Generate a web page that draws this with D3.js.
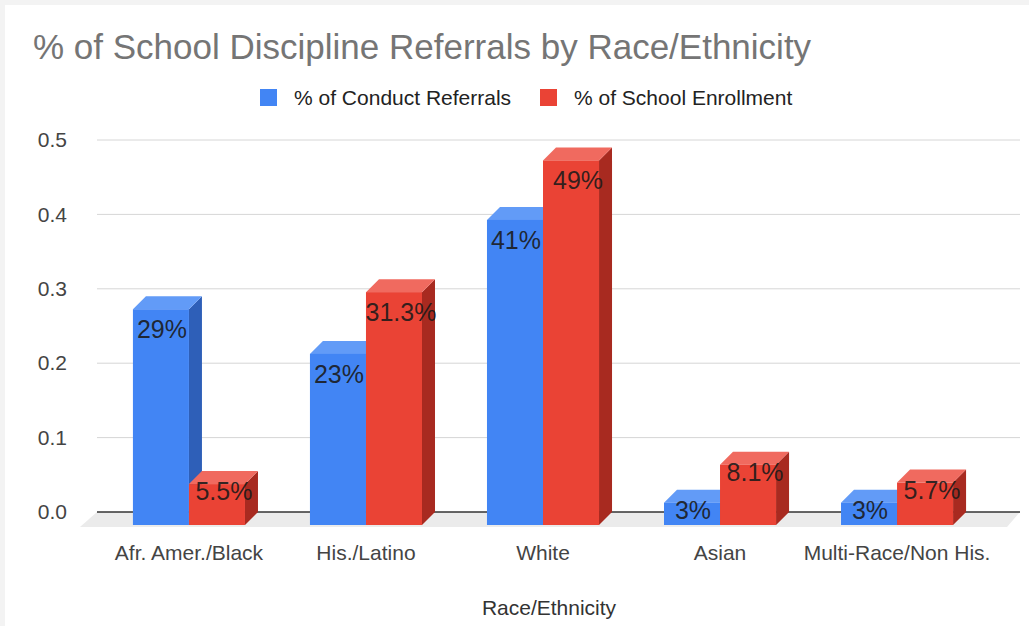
<!DOCTYPE html>
<html>
<head>
<meta charset="utf-8">
<script src="https://cdn.jsdelivr.net/npm/d3@7"></script>
<style>
  html, body { margin: 0; padding: 0; background: #ffffff; }
  svg { display: block; font-family: Arial, "Liberation Sans", sans-serif; }
</style>
</head>
<body>
<svg id="chart" width="1029" height="626"></svg>
<script>
// ---- data ----
const title = "% of School Discipline Referrals by Race/Ethnicity";
const categories = ["Afr. Amer./Black", "His./Latino", "White", "Asian", "Multi-Race/Non His."];
const seriesNames = ["% of Conduct Referrals", "% of School Enrollment"];
const conductReferrals = [0.29, 0.23, 0.41, 0.03, 0.03];
const schoolEnrollment = [0.055, 0.313, 0.49, 0.081, 0.057];
const yTicks = [0, 0.1, 0.2, 0.3, 0.4, 0.5];
const xAxisTitle = "Race/Ethnicity";

// ---- styles ----
const W = 1029, H = 626;
const depth = 13;
const palette = [
  { front: "#4285f4", top: "#629bf7", side: "#2e5fb8", labelShift: 1 },
  { front: "#ea4335", top: "#f06a5f", side: "#a82a20", labelShift: 7 }
];

const svg = d3.select("#chart");

// faint frame like the screenshot
svg.append("rect").attr("width", W).attr("height", H).attr("fill", "#f3f3f3");
svg.append("rect").attr("x", 5).attr("y", 5).attr("width", W - 5).attr("height", H - 5).attr("fill", "#ffffff");

// scales (back plane = grid plane, front faces shifted by depth)
const y = d3.scaleLinear().domain([0, 0.5]).range([512, 140]);
const yFront = v => y(v) + depth;
const x0 = d3.scaleBand().domain(categories).range([100, 986]).paddingInner(0.367).paddingOuter(0.186);
const x1 = d3.scaleBand().domain([0, 1]).range([0, x0.bandwidth()]);

const gridLeft = 97, gridRight = 1020;

// floor
svg.append("polygon")
  .attr("points", [
    [gridLeft, y(0)], [gridRight, y(0)],
    [gridRight - depth, yFront(0) + 2], [gridLeft - depth - 4, yFront(0) + 2]
  ].map(p => p.join(",")).join(" "))
  .attr("fill", "#ebebeb");

// gridlines
svg.append("g").selectAll("line").data(yTicks).join("line")
  .attr("x1", gridLeft).attr("x2", gridRight)
  .attr("y1", d => y(d)).attr("y2", d => y(d))
  .attr("stroke", d => d === 0 ? "#333333" : "#d6d6d6")
  .attr("stroke-width", d => d === 0 ? 1.5 : 1);

// y axis labels
const yAxis = d3.axisLeft(y).tickValues(yTicks).tickFormat(d3.format(".1f")).tickSize(0).tickPadding(0);
const gy = svg.append("g").attr("transform", "translate(67,0)").call(yAxis);
gy.select(".domain").remove();
gy.selectAll("text").attr("font-size", 21).attr("fill", "#444444").attr("font-family", "Arial, 'Liberation Sans', sans-serif");

// bars
const pct = d3.format(".1~%");
const series = [conductReferrals, schoolEnrollment];
const bars = [];
categories.forEach((c, i) => {
  series.forEach((vals, s) => bars.push({ c, s, v: vals[i] }));
});

const gBars = svg.append("g");
bars.forEach(b => {
  const col = palette[b.s];
  const bx = x0(b.c) + x1(b.s);
  const bw = x1.bandwidth();
  const yt = yFront(b.v), yb = yFront(0);
  const g = gBars.append("g");
  // side face
  g.append("polygon")
    .attr("points", [[bx + bw, yt], [bx + bw + depth, yt - depth], [bx + bw + depth, yb - depth], [bx + bw, yb]].map(p => p.join(",")).join(" "))
    .attr("fill", col.side);
  // top face
  g.append("polygon")
    .attr("points", [[bx, yt], [bx + depth, yt - depth], [bx + bw + depth, yt - depth], [bx + bw, yt]].map(p => p.join(",")).join(" "))
    .attr("fill", col.top);
  // front face
  g.append("rect").attr("x", bx).attr("y", yt).attr("width", bw).attr("height", yb - yt).attr("fill", col.front);
});

// value labels
bars.forEach(b => {
  const col = palette[b.s];
  const bx = x0(b.c) + x1(b.s);
  const bw = x1.bandwidth();
  const yt = yFront(b.v);
  const h = yFront(0) - yt;
  gBars.append("text")
    .attr("x", bx + bw / 2 + col.labelShift)
    .attr("y", yt + (h > 100 ? 29 : 16))
    .attr("text-anchor", "middle")
    .attr("font-size", 25)
    .attr("fill", "#1a1a1a")
    .attr("fill-opacity", 0.9)
    .text(pct(b.v));
});

// x axis labels
const xAxis = d3.axisBottom(x0).tickSize(0).tickPadding(0);
const gx = svg.append("g").attr("transform", "translate(0,545)").call(xAxis);
gx.select(".domain").remove();
gx.selectAll("text").attr("font-size", 21).attr("fill", "#444444").attr("font-family", "Arial, 'Liberation Sans', sans-serif");

// x axis title
svg.append("text")
  .attr("x", 549).attr("y", 615)
  .attr("text-anchor", "middle")
  .attr("font-size", 21).attr("fill", "#333333")
  .text(xAxisTitle);

// title
svg.append("text")
  .attr("x", 33).attr("y", 59)
  .attr("font-size", 35).attr("fill", "#757575")
  .text(title);

// legend
const legendX = [260, 540];
const legend = svg.append("g");
seriesNames.forEach((name, i) => {
  legend.append("rect").attr("x", legendX[i]).attr("y", 89).attr("width", 17).attr("height", 17).attr("fill", palette[i].front);
  legend.append("text").attr("x", legendX[i] + 34).attr("y", 105)
    .attr("font-size", 21).attr("fill", "#222222").text(name);
});
</script>
</body>
</html>
